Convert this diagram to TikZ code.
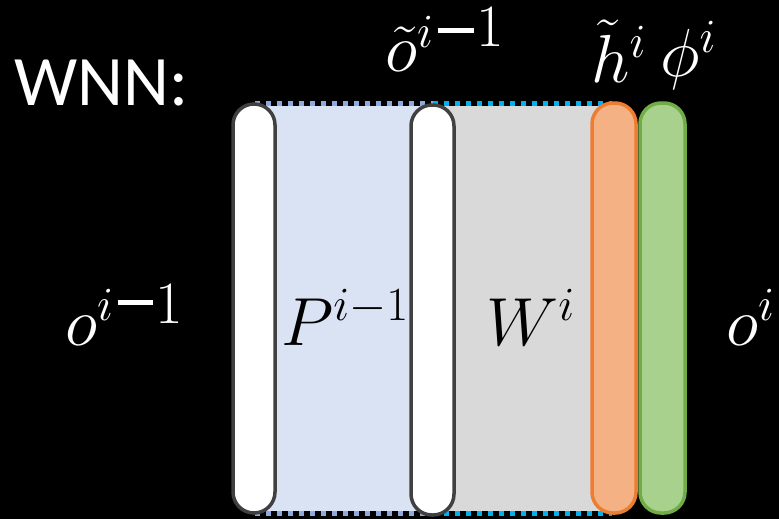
\RequirePackage{fix-cm}
\documentclass[tikz,border=0pt]{standalone}
\usepackage{fontspec}
\newfontfamily\carlito{Carlito}
\definecolor{blueFill}{HTML}{DAE3F3}
\definecolor{blueDot}{HTML}{8FAADC}
\definecolor{grayFill}{HTML}{D9D9D9}
\definecolor{cyanDot}{HTML}{00B0F0}
\definecolor{pillGray}{HTML}{404040}
\definecolor{orFill}{HTML}{F4B183}
\definecolor{orLine}{HTML}{ED7D31}
\definecolor{grFill}{HTML}{A9D18E}
\definecolor{grLine}{HTML}{70AD47}
\newcommand{\bigone}{\fontsize{60}{60}\selectfont 1}
\tikzset{
  block/.style={rectangle, inner sep=0pt},
  dots/.style={line width=4.5pt, dash pattern=on 5pt off 6pt},
  pill/.style={rectangle, inner sep=0pt, line width=3.5pt, rounded corners=21pt},
  lbl/.style={inner sep=0pt, anchor=base west, text=white, font=\fontsize{68}{72}\selectfont},
  lblin/.style={inner sep=0pt, anchor=base west, text=black, font=\fontsize{68}{72}\selectfont}
}
\begin{document}
\begin{tikzpicture}[x=1pt,y=-1pt]
\fill[black] (0,0) rectangle (779,519);
\useasboundingbox (0,0) rectangle (779,519);
% blocks
\node[block, fill=blueFill, minimum width=178pt, minimum height=405pt] (pblk) at (344,308.5) {};
\node[block, fill=grayFill, minimum width=179pt, minimum height=405pt] (wblk) at (522.5,308.5) {};
\draw[dots, blueDot] ([yshift=2.5pt]pblk.north west) -- ([yshift=2.5pt]pblk.north east);
\draw[dots, blueDot] ([yshift=-2.5pt]pblk.south west) -- ([yshift=-2.5pt]pblk.south east);
\draw[dots, cyanDot] ([yshift=2.5pt]wblk.north west) -- ([yshift=2.5pt]wblk.north east);
\draw[dots, cyanDot] ([yshift=-2.5pt]wblk.south west) -- ([yshift=-2.5pt]wblk.south east);
% pills
\node[pill, fill=white, draw=pillGray, minimum width=42pt, minimum height=409pt] (in1) at (254,308.5) {};
\node[pill, fill=white, draw=pillGray, minimum width=43pt, minimum height=410pt] (in2) at (432.5,310) {};
\node[pill, fill=orFill, draw=orLine, minimum width=44pt, minimum height=410pt] (hh) at (614,308) {};
\node[pill, fill=grFill, draw=grLine, minimum width=45pt, minimum height=410pt] (ph) at (662.5,308) {};
% labels
\node[lbl, font=\carlito\fontsize{71}{74}\selectfont] (wnn) at (14,105) {WNN:};
\node[lbl] (otl) at (385,72) {$\tilde{o}^{i}$\hspace{4pt}\rule[39.5pt]{36pt}{5pt}\hspace{3pt}\raisebox{25pt}{\bigone}};
\node[lbl] (htl) at (591,82) {$\tilde{h}^{i}$};
\node[lbl] (phl) at (660,77) {$\phi^{i}$};
\node[lbl] (oin) at (65,345) {$o^{i}$\hspace{4pt}\rule[40.5pt]{35pt}{5pt}\hspace{3pt}\raisebox{22pt}{\bigone}};
\node[lblin] (pl) at (281,345) {$P^{i-1}$};
\node[lblin] (wl) at (486,345) {$W^{i}$};
\node[lbl] (oout) at (726,345) {$o^{i}$};
\end{tikzpicture}
\end{document}
